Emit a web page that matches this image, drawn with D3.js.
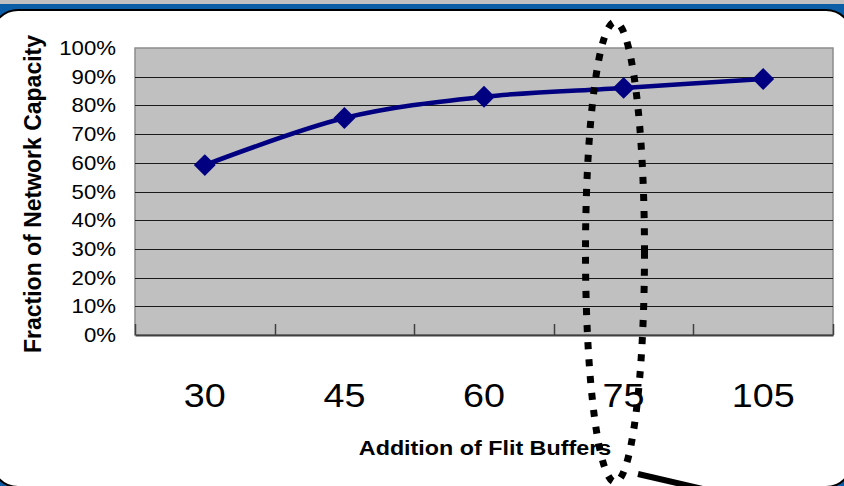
<!DOCTYPE html>
<html>
<head>
<meta charset="utf-8">
<script src="https://cdn.jsdelivr.net/npm/d3@7"></script>
<style>
  html, body { margin: 0; padding: 0; background: #fff; }
  svg { display: block; font-family: "Liberation Sans", Arial, sans-serif; }
</style>
</head>
<body>
<svg id="chart" width="844" height="486"></svg>
<script>
// data
const categories = ['30', '45', '60', '75', '105'];
const capacity = [0.592, 0.756, 0.830, 0.861, 0.892];
const yTicks = [0, 0.1, 0.2, 0.3, 0.4, 0.5, 0.6, 0.7, 0.8, 0.9, 1.0];

const W = 844, H = 486;
const plot = { left: 135, right: 833, top: 48, bottom: 335 };
const stretch = 1.11; // the slide text is a bit wide

const svg = d3.select('#chart');

// slide frame: grey strip, blue band, white rounded panel
svg.append('rect').attr('width', W).attr('height', H).attr('fill', '#0c5da8');
svg.append('rect').attr('width', W).attr('height', 4).attr('fill', '#c0c0c0');
svg.append('rect')
  .attr('x', -8).attr('y', 10)
  .attr('width', 860).attr('height', 477)
  .attr('rx', 26).attr('ry', 26)
  .attr('fill', '#fff')
  .attr('stroke', '#000')
  .attr('stroke-width', 2);

const x = d3.scaleBand()
  .domain(categories)
  .range([plot.left, plot.right]);

const y = d3.scaleLinear()
  .domain([0, 1])
  .range([plot.bottom, plot.top]);

// plot area
svg.append('rect')
  .attr('x', plot.left).attr('y', plot.top)
  .attr('width', plot.right - plot.left)
  .attr('height', plot.bottom - plot.top)
  .attr('fill', '#c0c0c0')
  .attr('stroke', '#8c8c8c')
  .attr('stroke-width', 1.5);

// gridlines
svg.append('g')
  .selectAll('line')
  .data(yTicks.filter(t => t > 0 && t < 1))
  .join('line')
  .attr('x1', plot.left).attr('x2', plot.right)
  .attr('y1', d => Math.round(y(d)) + 0.5)
  .attr('y2', d => Math.round(y(d)) + 0.5)
  .attr('stroke', '#1a1a1a')
  .attr('stroke-width', 1);

// x axis line with inside ticks at the band edges
const xAxis = svg.append('g')
  .attr('transform', `translate(0,${plot.bottom})`)
  .call(d3.axisBottom(x).tickSize(0).tickFormat(''));
xAxis.select('.domain').attr('stroke', '#404040').attr('stroke-width', 2);

const edges = categories.map(c => x(c)).concat([x.range()[1]]);
svg.append('g')
  .selectAll('line')
  .data(edges)
  .join('line')
  .attr('x1', d => Math.round(d) + 0.5).attr('x2', d => Math.round(d) + 0.5)
  .attr('y1', plot.bottom).attr('y2', plot.bottom - 11)
  .attr('stroke', '#404040')
  .attr('stroke-width', 1.5);

// y tick labels
const fmt = d3.format('.0%');
svg.append('g')
  .selectAll('text')
  .data(yTicks)
  .join('text')
  .attr('transform', d => `translate(116,${y(d) + 7}) scale(${stretch},1)`)
  .attr('text-anchor', 'end')
  .attr('font-size', 20)
  .attr('fill', '#000')
  .text(d => fmt(d));

// x tick labels
svg.append('g')
  .selectAll('text')
  .data(categories)
  .join('text')
  .attr('transform', d => `translate(${x(d) + x.bandwidth() / 2},407) scale(${stretch},1)`)
  .attr('text-anchor', 'middle')
  .attr('font-size', 34)
  .attr('fill', '#000')
  .text(d => d);

// axis titles
svg.append('text')
  .attr('transform', `translate(485,455) scale(${stretch},1)`)
  .attr('text-anchor', 'middle')
  .attr('font-size', 21)
  .attr('font-weight', 'bold')
  .text('Addition of Flit Buffers');

svg.append('text')
  .attr('transform', `translate(41,194) rotate(-90) scale(1,${stretch})`)
  .attr('text-anchor', 'middle')
  .attr('font-size', 21)
  .attr('font-weight', 'bold')
  .attr('textLength', 318)
  .attr('lengthAdjust', 'spacingAndGlyphs')
  .text('Fraction of Network Capacity');

// series line (smoothed) and diamond markers
const pts = categories.map((c, i) => [x(c) + x.bandwidth() / 2, y(capacity[i])]);

svg.append('path')
  .attr('d', d3.line().curve(d3.curveCardinal.tension(0))(pts))
  .attr('fill', 'none')
  .attr('stroke', '#000080')
  .attr('stroke-width', 4.5)
  .attr('stroke-linejoin', 'round');

svg.append('g')
  .selectAll('path')
  .data(pts)
  .join('path')
  .attr('transform', d => `translate(${d[0]},${d[1]}) rotate(45)`)
  .attr('d', d3.symbol(d3.symbolSquare, 240))
  .attr('fill', '#000080');

// dotted callout ellipse around the 75 point
const ring = svg.append('g');
ring.append('ellipse')
  .attr('cx', 615).attr('cy', 252)
  .attr('rx', 29.5).attr('ry', 230)
  .attr('fill', 'none')
  .attr('stroke', '#000')
  .attr('stroke-width', 7)
  .attr('stroke-dasharray', '7,10');

ring.append('line')
  .attr('x1', 638).attr('y1', 474)
  .attr('x2', 720).attr('y2', 493)
  .attr('stroke', '#000')
  .attr('stroke-width', 6);
</script>
</body>
</html>
